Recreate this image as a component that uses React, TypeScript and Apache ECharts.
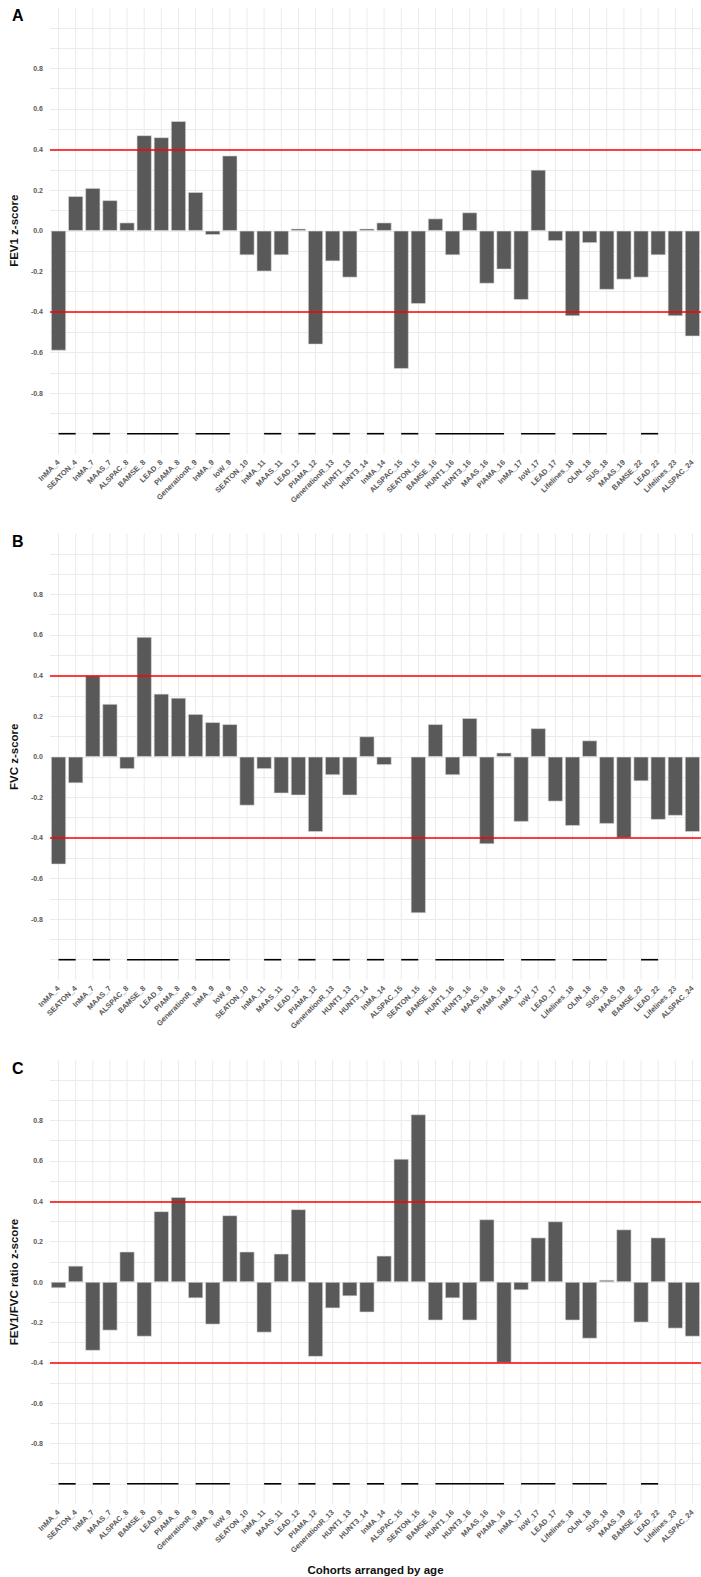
import React, { useEffect, useRef } from 'react';
import * as echarts from 'echarts';

const cohorts = [
  'InMA_4', 'SEATON_4', 'InMA_7', 'MAAS_7', 'ALSPAC_8', 'BAMSE_8', 'LEAD_8', 'PIAMA_8',
  'GenerationR_9', 'InMA_9', 'IoW_9', 'SEATON_10', 'InMA_11', 'MAAS_11', 'LEAD_12', 'PIAMA_12',
  'GenerationR_13', 'HUNT1_13', 'HUNT3_14', 'InMA_14', 'ALSPAC_15', 'SEATON_15', 'BAMSE_16',
  'HUNT1_16', 'HUNT3_16', 'MAAS_16', 'PIAMA_16', 'InMA_17', 'IoW_17', 'LEAD_17', 'Lifelines_18',
  'OLIN_18', 'SUS_18', 'MAAS_19', 'BAMSE_22', 'LEAD_22', 'Lifelines_23', 'ALSPAC_24',
];

const fev1 = [
  -0.59, 0.17, 0.21, 0.15, 0.04, 0.47, 0.46, 0.54, 0.19, -0.02, 0.37, -0.12, -0.2, -0.12, 0.01,
  -0.56, -0.15, -0.23, 0.01, 0.04, -0.68, -0.36, 0.06, -0.12, 0.09, -0.26, -0.19, -0.34, 0.3,
  -0.05, -0.42, -0.06, -0.29, -0.24, -0.23, -0.12, -0.42, -0.52,
];

const fvc = [
  -0.53, -0.13, 0.4, 0.26, -0.06, 0.59, 0.31, 0.29, 0.21, 0.17, 0.16, -0.24, -0.06, -0.18, -0.19,
  -0.37, -0.09, -0.19, 0.1, -0.04, null, -0.77, 0.16, -0.09, 0.19, -0.43, 0.02, -0.32, 0.14, -0.22,
  -0.34, 0.08, -0.33, -0.4, -0.12, -0.31, -0.29, -0.37,
];

const ratio = [
  -0.03, 0.08, -0.34, -0.24, 0.15, -0.27, 0.35, 0.42, -0.08, -0.21, 0.33, 0.15, -0.25, 0.14, 0.36,
  -0.37, -0.13, -0.07, -0.15, 0.13, 0.61, 0.83, -0.19, -0.08, -0.19, 0.31, -0.4, -0.04, 0.22, 0.3,
  -0.19, -0.28, 0.01, 0.26, -0.2, 0.22, -0.23, -0.27,
];

const panelLetters = ['A', 'B', 'C'];
const yTitles = ['FEV1 z-score', 'FVC z-score', 'FEV1/FVC ratio z-score'];
const panelValues = [fev1, fvc, ratio];
const thresholds = [0.4, -0.4];
const ageLineLevel = -1.0;
const yMin = -1.1;
const yMax = 1.1;
const xTitle = 'Cohorts arranged by age';

const FONT = '"Liberation Sans", Arial, sans-serif';
const GRID_LEFT = 48;
const GRID_WIDTH = 654;
const GRID_TOPS = [7.5, 533.5, 1060];
const GRID_HEIGHT = 446.5;

function ageGroups(names: string[]): number[][] {
  const groups: number[][] = [];
  let start = 0;
  for (let i = 1; i <= names.length; i++) {
    const prev = names[i - 1].split('_').pop();
    const cur = i < names.length ? names[i].split('_').pop() : null;
    if (cur !== prev) {
      if (i - 1 > start) groups.push([start, i - 1, ageLineLevel]);
      start = i;
    }
  }
  return groups;
}

export default function App() {
  const ref = useRef<HTMLDivElement>(null);

  useEffect(() => {
    document.body.style.margin = '0';
    if (!ref.current) return;
    const chart = echarts.init(ref.current, undefined, { renderer: 'svg' });
    const groups = ageGroups(cohorts);

    const grids: any[] = [];
    const xAxes: any[] = [];
    const yAxes: any[] = [];
    const series: any[] = [];
    const graphics: any[] = [];

    panelValues.forEach((vals, p) => {
      grids.push({ left: GRID_LEFT, width: GRID_WIDTH, top: GRID_TOPS[p], height: GRID_HEIGHT });
      xAxes.push({
        type: 'category',
        gridIndex: p,
        data: cohorts,
        boundaryGap: true,
        axisLine: { show: false },
        axisTick: { show: false },
        splitLine: { show: false },
        axisLabel: {
          rotate: 45,
          interval: 0,
          margin: 7,
          fontSize: 7.5,
          fontWeight: 'bold',
          color: '#5a5a5a',
          fontFamily: FONT,
        },
        ...(p === 2
          ? {
              name: xTitle,
              nameLocation: 'middle',
              nameGap: 60,
              nameTextStyle: { fontSize: 11.5, fontWeight: 'bold', color: '#111', fontFamily: FONT },
            }
          : {}),
      });
      yAxes.push({
        type: 'value',
        gridIndex: p,
        min: yMin,
        max: yMax,
        interval: 0.1,
        name: yTitles[p],
        nameLocation: 'middle',
        nameRotate: 90,
        nameGap: 24,
        nameTextStyle: { fontSize: 11.5, fontWeight: 'bold', color: '#111', fontFamily: FONT },
        axisLine: { show: false },
        axisTick: { show: false },
        axisLabel: {
          margin: 7,
          fontSize: 7,
          fontWeight: 'bold',
          color: '#5a5a5a',
          fontFamily: FONT,
          formatter: (v: number) => {
            const r = Math.round(v * 10);
            return r % 2 === 0 && Math.abs(r) <= 8 ? (r / 10).toFixed(1) : '';
          },
        },
        splitLine: {
          show: true,
          showMinLine: false,
          showMaxLine: false,
          lineStyle: { color: '#ebebeb', width: 1 },
        },
      });
      series.push({
        type: 'custom',
        xAxisIndex: p,
        yAxisIndex: p,
        z: 1,
        silent: true,
        data: cohorts.map((_, i) => [i, 0]),
        encode: { x: 0, y: 1 },
        renderItem: (params: any, api: any) => {
          const x = api.value(0);
          const a = api.coord([x, yMax]);
          const b = api.coord([x, yMin]);
          return {
            type: 'line',
            shape: { x1: a[0], y1: a[1], x2: b[0], y2: b[1] },
            style: { stroke: '#ebebeb', lineWidth: 1 },
          };
        },
      });
      series.push({
        type: 'bar',
        xAxisIndex: p,
        yAxisIndex: p,
        z: 2,
        data: vals,
        barWidth: '87%',
        itemStyle: { color: '#595959', borderColor: '#dadada', borderWidth: 0.6 },
        markLine: {
          silent: true,
          symbol: 'none',
          label: { show: false },
          lineStyle: { color: '#ff0000', width: 1.6, type: 'solid' },
          data: thresholds.map((t) => ({ yAxis: t })),
        },
      });
      series.push({
        type: 'custom',
        xAxisIndex: p,
        yAxisIndex: p,
        z: 3,
        silent: true,
        data: groups,
        encode: { x: [0, 1], y: 2 },
        renderItem: (params: any, api: any) => {
          const a = api.coord([api.value(0), api.value(2)]);
          const b = api.coord([api.value(1), api.value(2)]);
          return {
            type: 'line',
            shape: { x1: a[0], y1: a[1], x2: b[0], y2: b[1] },
            style: { stroke: '#000000', lineWidth: 1.6 },
          };
        },
      });
      graphics.push({
        type: 'text',
        left: 12,
        top: GRID_TOPS[p],
        style: {
          text: panelLetters[p],
          font: `bold 16px ${FONT}`,
          fill: '#000',
        },
      });
    });

    chart.setOption({
      animation: false,
      backgroundColor: '#ffffff',
      grid: grids,
      xAxis: xAxes,
      yAxis: yAxes,
      series,
      graphic: graphics,
    });
    return () => chart.dispose();
  }, []);

  return <div ref={ref} style={{ width: 701, height: 1577 }} />;
}
